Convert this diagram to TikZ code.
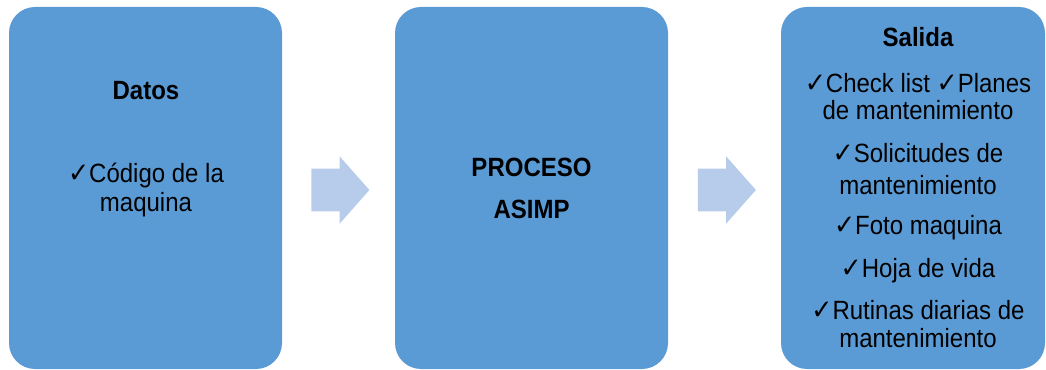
\documentclass[tikz,border=0pt]{standalone}
\usepackage{fontspec}
\setmainfont{Liberation Sans}
\newfontfamily\checkfont{DejaVu Sans Bold}
\usetikzlibrary{shapes.arrows}
\definecolor{azulcaja}{RGB}{91,155,213}
\definecolor{azulflecha}{RGB}{183,204,234}
\newcommand{\chk}{{\checkfont\scalebox{1.05}{\char"2713}}}
\newcommand{\alto}[1]{\scalebox{1}[1.1]{#1}}
\tikzset{
  caja/.style={fill=azulcaja, rounded corners=19.5pt, minimum width=204.75pt, minimum height=271.5pt},
  flecha/.style={single arrow, fill=azulflecha, minimum height=43.5pt, inner xsep=0pt, inner ysep=15.75pt,
    single arrow head extend=9.4pt, single arrow tip angle=97},
  linea/.style={anchor=base, inner sep=0pt, font=\fontsize{18pt}{21pt}\selectfont},
}
\begin{document}
\begin{tikzpicture}[x=0.75pt,y=-0.75pt]
\useasboundingbox (0,0) rectangle (1046,370);
% cajas
\node[caja] (datos) at (145.5,188) {};
\node[caja] (proceso) at (531.5,188) {};
\node[caja, minimum width=198pt] (salida) at (913,188) {};
% flechas
\node[flecha] (f1) at (331,190) {};
\node[flecha] (f2) at (717.5,190) {};
% entrada
\node[linea] (d1) at (146,100) {\alto{\bfseries Datos}};
\node[linea] (d2) at (146,183) {\alto{\chk C\'odigo de la}};
\node[linea] (d3) at (146,212) {\alto{maquina}};
% proceso
\node[linea] (p1) at (531.5,177) {\alto{\bfseries PROCESO}};
\node[linea] (p2) at (531.5,219) {\alto{\bfseries ASIMP}};
% salida
\node[linea] (s1) at (918,47) {\alto{\bfseries Salida}};
\node[linea] (s2) at (918,92.5) {\alto{\chk Check list \chk Planes}};
\node[linea] (s3) at (918,120) {\alto{de mantenimiento}};
\node[linea] (s4) at (918,163) {\alto{\chk Solicitudes de}};
\node[linea] (s5) at (918,195) {\alto{mantenimiento}};
\node[linea] (s6) at (918,235) {\alto{\chk Foto maquina}};
\node[linea] (s7) at (918,278) {\alto{\chk Hoja de vida}};
\node[linea] (s8) at (918,320) {\alto{\chk Rutinas diarias de}};
\node[linea] (s9) at (918,348) {\alto{mantenimiento}};
\end{tikzpicture}
\end{document}
